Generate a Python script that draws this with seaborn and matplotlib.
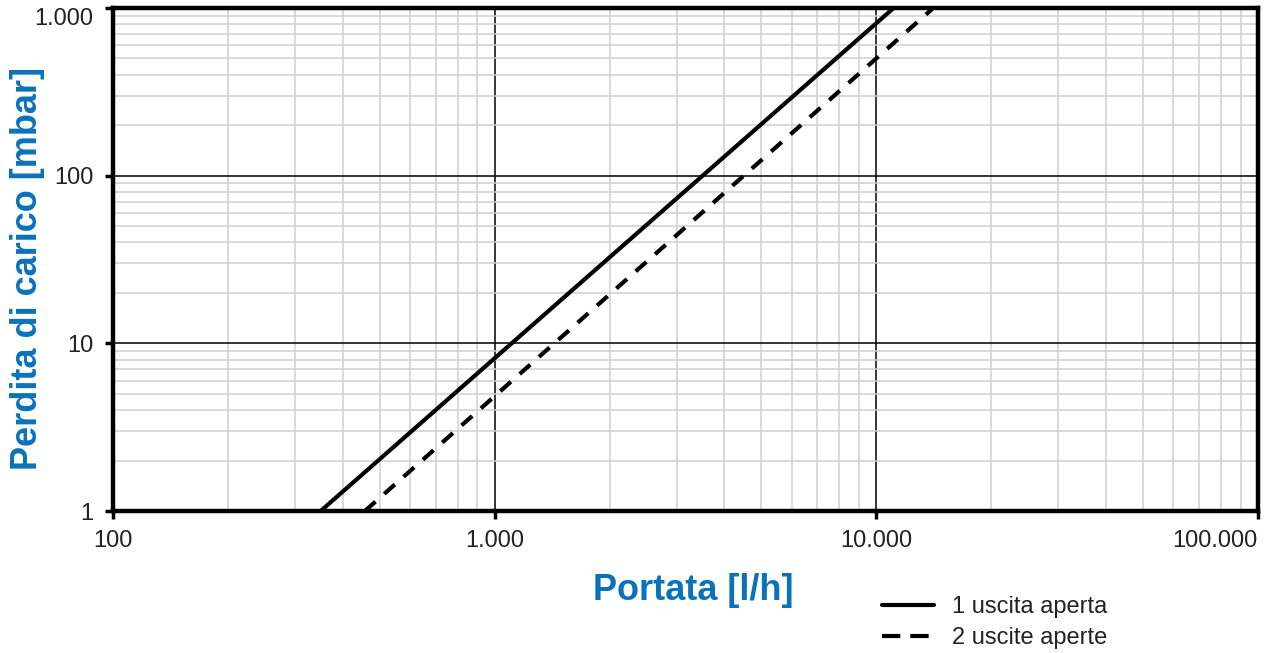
import numpy as np
import pandas as pd
import seaborn as sns
import matplotlib.pyplot as plt
from matplotlib.ticker import LogLocator, FuncFormatter, NullFormatter

# Curve end points (flow l/h, pressure drop mbar)
flow_1 = [350, 11100]
drop_1 = [1, 1000]
flow_2 = [457, 14100]
drop_2 = [1, 1000]
series_names = ["1 uscita aperta", "2 uscite aperte"]

x_ticks = [100, 1000, 10000, 100000]
y_ticks = [1, 10, 100, 1000]

BLUE = "#0a72ba"

sns.set_theme(style="white")
plt.rcParams['font.family'] = ['Liberation Sans', 'DejaVu Sans']

df = pd.concat([
    pd.DataFrame({"portata": flow_1, "perdita": drop_1, "serie": series_names[0]}),
    pd.DataFrame({"portata": flow_2, "perdita": drop_2, "serie": series_names[1]}),
])

fig = plt.figure(figsize=(12.69, 6.53), dpi=100)
ax = fig.add_axes([113 / 1269, 1 - 511 / 653, (1258 - 113) / 1269, (511 - 8) / 653])

sns.lineplot(data=df, x="portata", y="perdita", style="serie", color="black",
             dashes={series_names[0]: "", series_names[1]: (3.4, 2.8)},
             linewidth=3, ax=ax, legend=False, zorder=5)

ax.set_xscale("log")
ax.set_yscale("log")
ax.set_xlim(100, 100000)
ax.set_ylim(1, 1000)

fmt = FuncFormatter(lambda v, p: f"{int(round(v)):,}".replace(",", "."))
ax.set_xticks(x_ticks)
ax.set_yticks(y_ticks)
ax.xaxis.set_major_formatter(fmt)
ax.yaxis.set_major_formatter(fmt)
ax.xaxis.set_minor_locator(LogLocator(base=10, subs=np.arange(2, 10)))
ax.yaxis.set_minor_locator(LogLocator(base=10, subs=np.arange(2, 10)))
ax.xaxis.set_minor_formatter(NullFormatter())
ax.yaxis.set_minor_formatter(NullFormatter())

ax.grid(which="minor", color="#d0d0d0", linewidth=1.1)
ax.grid(which="major", color="black", linewidth=1.1)
ax.set_axisbelow(True)

for s in ax.spines.values():
    s.set_linewidth(3.2)
    s.set_color("black")

ax.tick_params(which="major", direction="out", length=6, width=2.5, color="black",
               labelsize=17, labelcolor="#222222", pad=8, bottom=True, left=True)
ax.tick_params(which="minor", length=0)

# last x label sits inside the figure, top y label hangs below its tick
fig.canvas.draw()
ax.get_xticklabels()[-1].set_horizontalalignment("right")
ax.get_yticklabels()[-1].set_verticalalignment("top")

ax.set_xlabel("Portata [l/h]", color=BLUE, fontsize=26, fontweight="bold")
ax.set_ylabel("Perdita di carico [mbar]", color=BLUE, fontsize=26, fontweight="bold")
ax.xaxis.set_label_coords((693 - 113) / 1145, -(590 - 511) / 503)
ax.yaxis.set_label_coords(-(113 - 28) / 1145, (511 - 269) / 503)
ax.xaxis.label.set_verticalalignment("center")
ax.yaxis.label.set_verticalalignment("center")

handles = [plt.Line2D([], [], color="black", lw=3),
           plt.Line2D([], [], color="black", lw=3, dashes=(4.4, 2.4))]
fig.legend(handles, series_names, loc="upper left", bbox_to_anchor=(861 / 1269, 1 - 575 / 653),
           frameon=False, fontsize=17, handlelength=2.2, labelspacing=0.38,
           handletextpad=0.75, labelcolor="#222222")

fig.savefig("out.png", dpi=100)
